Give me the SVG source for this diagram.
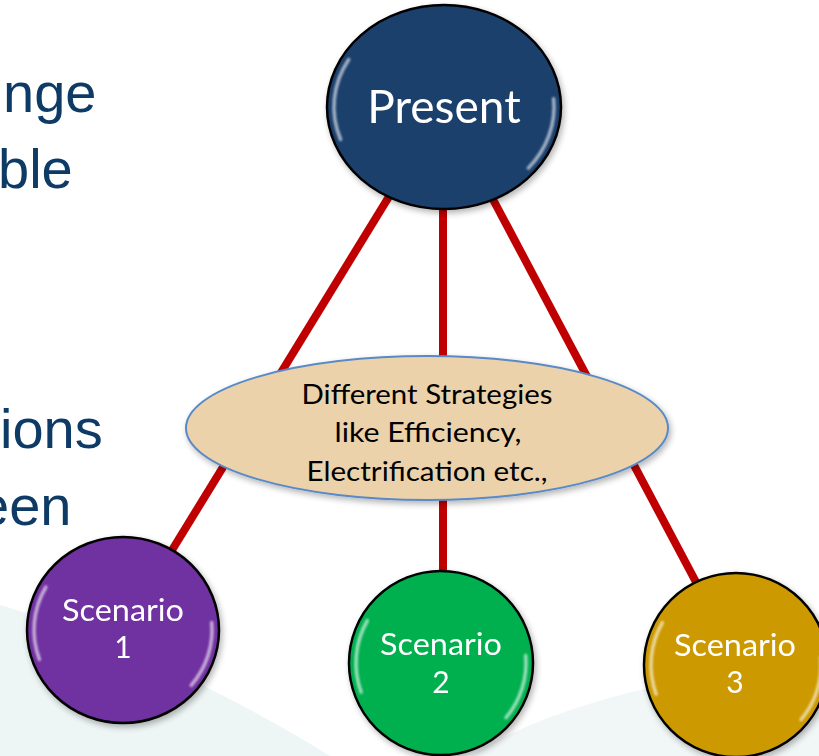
<svg xmlns="http://www.w3.org/2000/svg" width="819" height="756" viewBox="0 0 819 756">
<defs>
<style>
.side{font-family:"Liberation Sans",Arial,sans-serif;font-size:56px;fill:#0E3A66}
.lbl{font-family:Lato,"Open Sans",sans-serif;fill:#fff;text-anchor:middle}
.sc{font-size:30px}
.etx{font-family:Lato,"Open Sans",sans-serif;fill:#000;text-anchor:middle;font-size:27px}
.ball{stroke:#000;stroke-width:2.5}
.glint{fill:none;stroke:#fff;stroke-linecap:round;stroke-width:3.5;opacity:0.6;filter:url(#soft)}
.conn{stroke:#C00000;stroke-width:8;fill:none}
</style>
<filter id="soft" x="-20%" y="-20%" width="140%" height="140%">
<feGaussianBlur stdDeviation="0.9"/>
</filter>
<filter id="sh" x="-20%" y="-20%" width="140%" height="140%">
<feGaussianBlur in="SourceAlpha" stdDeviation="3"/>
<feOffset dx="2" dy="3"/>
<feComponentTransfer><feFuncA type="linear" slope="0.3"/></feComponentTransfer>
<feMerge><feMergeNode/><feMergeNode in="SourceGraphic"/></feMerge>
</filter>
</defs>
<rect width="819" height="756" fill="#fff"/>
<path d="M0 605 C120 640 240 700 330 756 L0 756 Z" fill="#EEF5F5"/>
<path d="M470 756 C560 700 690 675 819 660 L819 756 Z" fill="#F1F6F6"/>

<g id="side-text">
<text class="side" x="3" y="112">nge</text>
<text class="side" x="-2" y="188">ble</text>
<text class="side" x="0" y="448">ions</text>
<text class="side" x="-22" y="525">een</text>
</g>

<g id="connectors">
<line class="conn" x1="444" y1="107" x2="123" y2="630"/>
<line class="conn" x1="443" y1="107" x2="443" y2="663"/>
<line class="conn" x1="444" y1="107" x2="740" y2="665"/>
</g>

<g id="present" filter="url(#sh)">
<ellipse class="ball" cx="444" cy="107" rx="117" ry="102" fill="#1B3F6C"/>
<path class="glint" d="M340.6 139.5 A110 95 0 0 1 348.7 59.5"/>
<path class="glint" d="M553.6 98.7 A110 95 0 0 1 528.3 168.1"/>
<text class="lbl" x="444" y="123" font-size="46">Present</text>
</g>

<g id="strategies">
<ellipse cx="427" cy="428" rx="241" ry="72" fill="#ECD2AB" stroke="#5A8AC6" stroke-width="2" filter="url(#sh)"/>
<text class="etx" x="427" y="404" textLength="251" lengthAdjust="spacingAndGlyphs">Different Strategies</text>
<text class="etx" x="428" y="442" textLength="187" lengthAdjust="spacingAndGlyphs">like Efficiency,</text>
<text class="etx" x="427" y="481" textLength="241" lengthAdjust="spacingAndGlyphs">Electrification etc.,</text>
</g>

<g id="scenario1" filter="url(#sh)">
<ellipse class="ball" cx="123" cy="630" rx="96" ry="93" fill="#7030A0"/>
<path class="glint" d="M39.4 659.4 A89 86 0 0 1 45.9 587"/>
<path class="glint" d="M211.7 622.5 A89 86 0 0 1 191.2 685.3"/>
<text class="lbl sc" x="123" y="621" textLength="122" lengthAdjust="spacingAndGlyphs">Scenario</text>
<text class="lbl sc" x="123" y="658">1</text>
</g>

<g id="scenario2" filter="url(#sh)">
<ellipse class="ball" cx="441" cy="663" rx="92" ry="92" fill="#00B050"/>
<path class="glint" d="M361.1 692.1 A85 85 0 0 1 367.4 620.5"/>
<path class="glint" d="M525.7 655.6 A85 85 0 0 1 506.1 717.6"/>
<text class="lbl sc" x="441" y="655" textLength="122" lengthAdjust="spacingAndGlyphs">Scenario</text>
<text class="lbl sc" x="441" y="693">2</text>
</g>

<g id="scenario3" filter="url(#sh)">
<ellipse class="ball" cx="736" cy="665" rx="92" ry="92" fill="#CC9900"/>
<path class="glint" d="M656.1 694.1 A85 85 0 0 1 662.4 622.5"/>
<path class="glint" d="M820.7 657.6 A85 85 0 0 1 801.1 719.6"/>
<text class="lbl sc" x="735" y="656" textLength="122" lengthAdjust="spacingAndGlyphs">Scenario</text>
<text class="lbl sc" x="735" y="693">3</text>
</g>
</svg>
